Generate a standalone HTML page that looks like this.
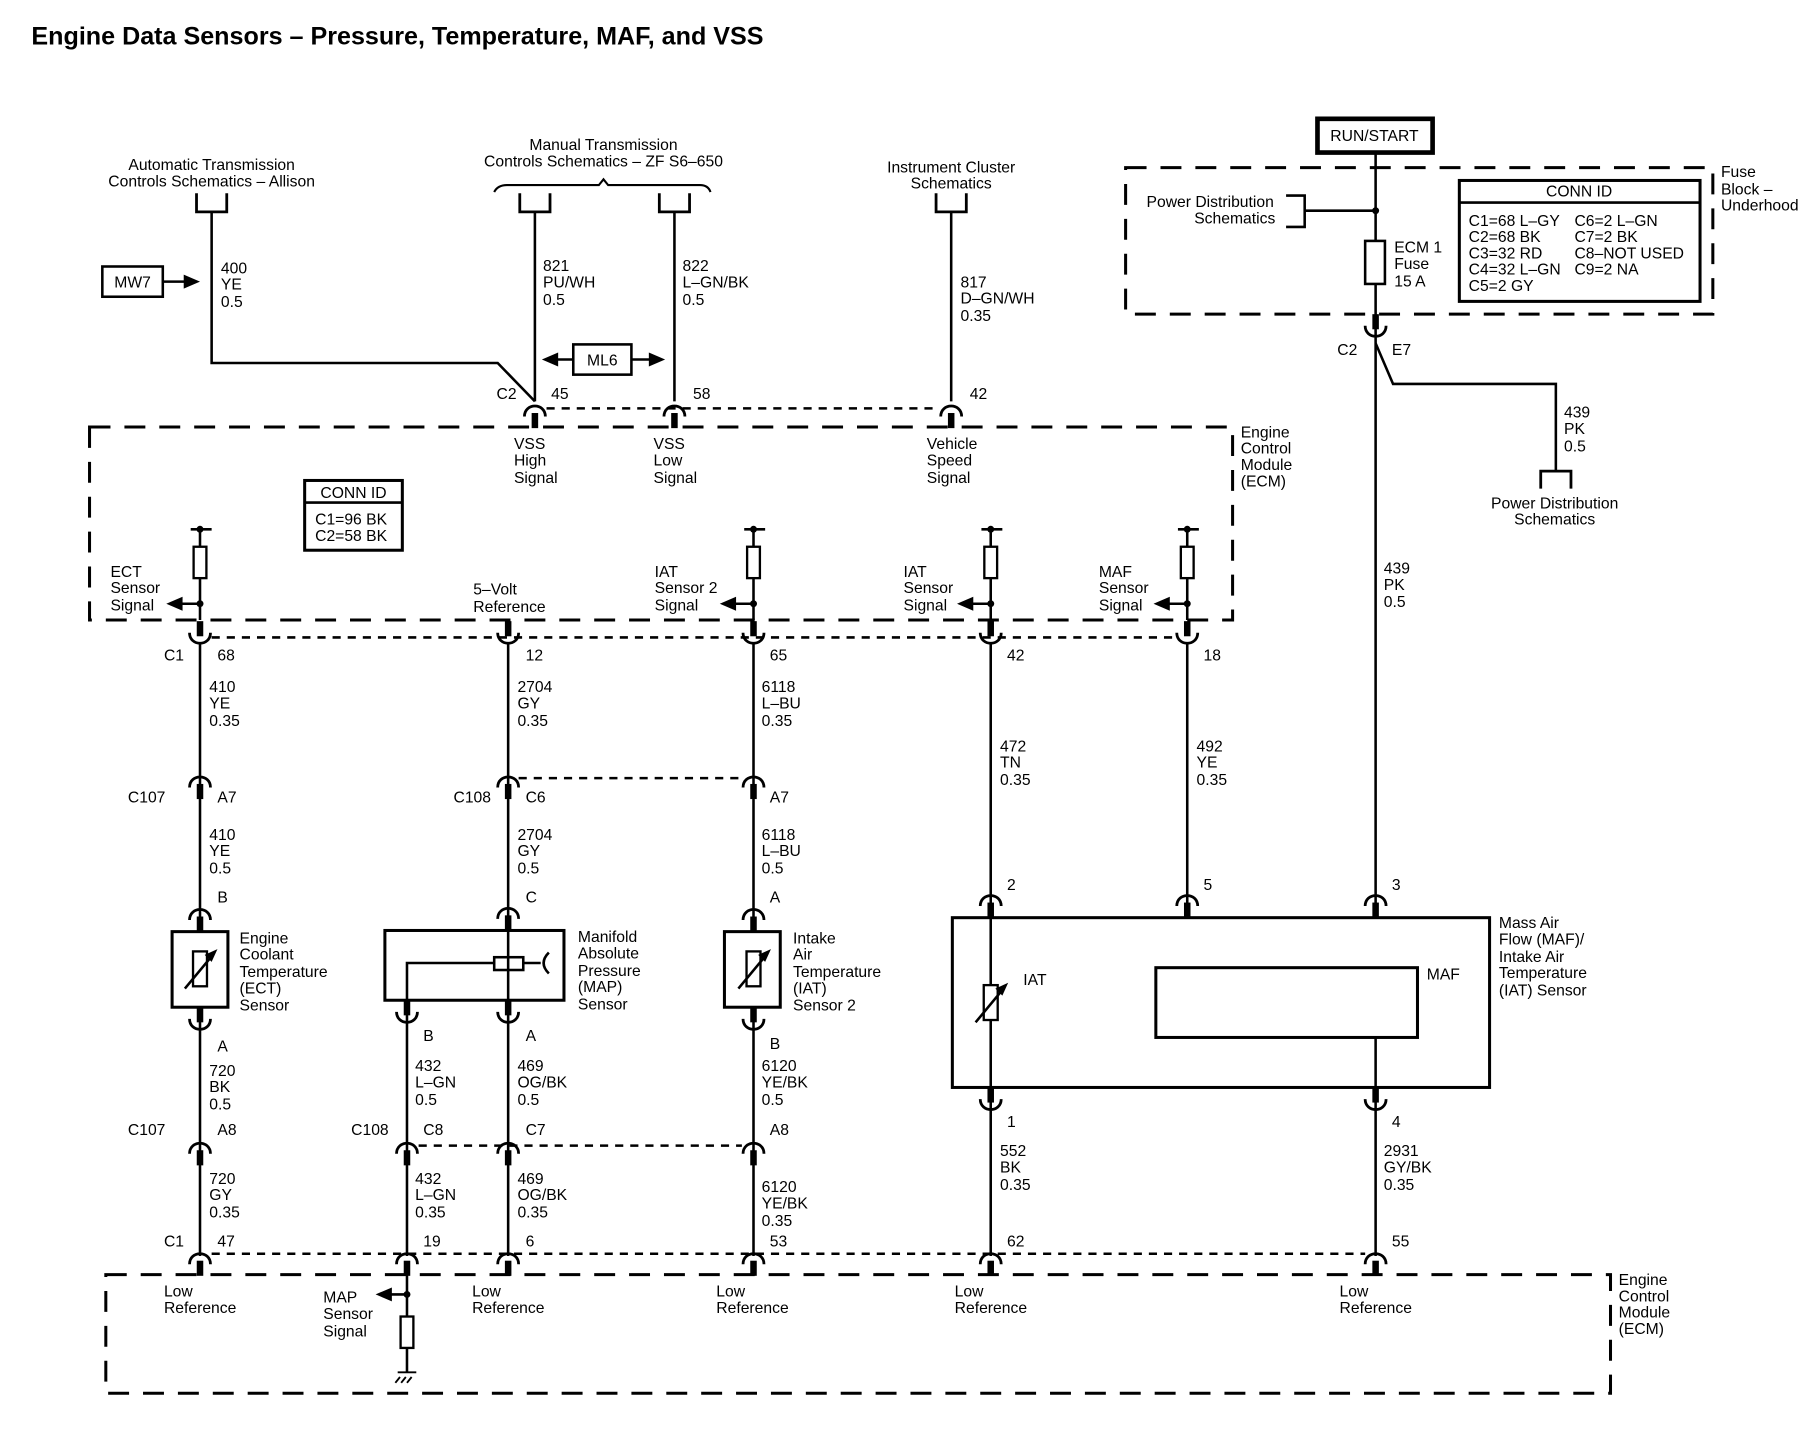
<!DOCTYPE html>
<html><head><meta charset="utf-8"><style>
html,body{margin:0;padding:0;background:#fff;}
svg{display:block;}
text{font-family:"Liberation Sans",sans-serif;font-size:13.5px;fill:#000;}
.b{font-weight:bold;}
</style></head><body>
<svg width="1814" height="1440" viewBox="0 0 1560 1238" xmlns="http://www.w3.org/2000/svg">
<defs>
<g id="cU"><rect x="-2.8" y="-16" width="5.6" height="13" fill="#000"/><path d="M-9,-6 C-9,6 9,6 9,-6" fill="none" stroke="#000" stroke-width="2.4"/></g>
<g id="cN"><rect x="-2.8" y="3" width="5.6" height="13" fill="#000"/><path d="M-9,6 C-9,-6 9,-6 9,6" fill="none" stroke="#000" stroke-width="2.4"/></g>
<g id="res"><rect x="-5.5" y="0" width="11" height="27" fill="#fff" stroke="#000" stroke-width="2"/></g>
<g id="brk"><path d="M-13,0 V16 H13 V0" fill="none" stroke="#000" stroke-width="2.4"/></g>
<g id="therm"><rect x="-6" y="-15" width="12" height="30" fill="#fff" stroke="#000" stroke-width="2"/><line x1="-13" y1="17" x2="11" y2="-12" stroke="#000" stroke-width="2.2"/><path d="M15,-17 L4,-12 L10,-6 Z" fill="#000"/></g>
</defs>
<text x="27" y="38" class="b" style="font-size:21.6px">Engine Data Sensors – Pressure, Temperature, MAF, and VSS</text>

<g stroke="#000" fill="none" stroke-width="2.2">
<path d="M182,182 V312 H428 L460,345"/>
<line x1="460" y1="182" x2="460" y2="345"/>
<line x1="580" y1="182" x2="580" y2="345"/>
<line x1="818" y1="182" x2="818" y2="345"/>
<path d="M425,165 Q428,159 436,159 H515 L519,154 L523,159 H602 Q609,159 611,165" stroke-width="1.8"/>
<rect x="88" y="229" width="52" height="26"/>
<line x1="140" y1="242" x2="160" y2="242"/>
<rect x="493" y="296" width="50" height="26"/>
<line x1="493" y1="309" x2="478" y2="309"/><line x1="543" y1="309" x2="560" y2="309"/>
<line x1="470" y1="351" x2="808" y2="351" stroke-dasharray="7,6"/>
<rect x="77" y="367" width="983" height="166" stroke-dasharray="18,12" stroke-width="2.6"/>
<rect x="262" y="413" width="84" height="60" stroke-width="2.6"/>
<line x1="262" y1="432" x2="346" y2="432"/>
<g>
<line x1="172" y1="455" x2="172" y2="533"/><line x1="164" y1="455" x2="182" y2="455"/>
<line x1="648" y1="455" x2="648" y2="533"/><line x1="640" y1="455" x2="658" y2="455"/>
<line x1="852" y1="455" x2="852" y2="533"/><line x1="844" y1="455" x2="862" y2="455"/>
<line x1="1021" y1="455" x2="1021" y2="533"/><line x1="1013" y1="455" x2="1031" y2="455"/>
<line x1="172" y1="519" x2="155" y2="519"/><line x1="648" y1="519" x2="631" y2="519"/>
<line x1="852" y1="519" x2="835" y2="519"/><line x1="1021" y1="519" x2="1004" y2="519"/>
</g>
<line x1="182" y1="548" x2="1012" y2="548" stroke-dasharray="7,6"/>
<line x1="172" y1="552" x2="172" y2="801"/>
<line x1="437" y1="552" x2="437" y2="828"/>
<line x1="648" y1="552" x2="648" y2="801"/>
<line x1="852" y1="552" x2="852" y2="789"/>
<line x1="1021" y1="552" x2="1021" y2="789"/>
<line x1="1183" y1="131" x2="1183" y2="789"/>
<line x1="446" y1="669" x2="638" y2="669" stroke-dasharray="7,6"/>
<rect x="148" y="801" width="48" height="65" stroke-width="2.6"/>
<rect x="623" y="801" width="48" height="65" stroke-width="2.6"/>
<rect x="331" y="800" width="154" height="60" stroke-width="2.6"/>
<path d="M350,866 V828 H425"/><line x1="450" y1="828" x2="465" y2="828"/>
<path d="M472,819 Q463,828 472,837"/>
<rect x="425" y="823" width="25" height="11" fill="#fff"/>
<line x1="437" y1="860" x2="437" y2="823"/>
<rect x="819" y="789" width="462" height="146" stroke-width="2.6"/>
<rect x="994" y="832" width="225" height="60" stroke-width="2.6"/>
<line x1="852" y1="789" x2="852" y2="935"/>
<line x1="1183" y1="892" x2="1183" y2="935"/>
<line x1="172" y1="866" x2="172" y2="1080"/>
<line x1="350" y1="860" x2="350" y2="1080"/>
<line x1="437" y1="860" x2="437" y2="1080"/>
<line x1="648" y1="866" x2="648" y2="1080"/>
<line x1="852" y1="935" x2="852" y2="1080"/>
<line x1="1183" y1="935" x2="1183" y2="1080"/>
<line x1="360" y1="985" x2="638" y2="985" stroke-dasharray="7,6"/>
<line x1="182" y1="1078" x2="1174" y2="1078" stroke-dasharray="7,6"/>
<rect x="91" y="1096" width="1294" height="102" stroke-dasharray="18,12" stroke-width="2.6"/>
<line x1="350" y1="1096" x2="350" y2="1180"/>
<line x1="350" y1="1113" x2="335" y2="1113"/>
<path d="M342,1180 H358 M344,1184 L340,1189 M349,1184 L345,1189 M354,1184 L350,1189" stroke-width="1.6"/>
<rect x="1133" y="102" width="99" height="29" stroke-width="4"/>
<rect x="968" y="144" width="505" height="126" stroke-dasharray="18,12" stroke-width="2.6"/>
<path d="M1106,168 H1122 V195 H1106" />
<line x1="1122" y1="181" x2="1183" y2="181"/>
<rect x="1174" y="207" width="17" height="37" fill="#fff"/>
<rect x="1255" y="155" width="207" height="104" stroke-width="2.6"/>
<line x1="1255" y1="174" x2="1462" y2="174"/>
<path d="M1183,295 L1198,330 H1338 V405"/>
<path d="M1325,420 V405 H1351 V420" stroke-width="2.4"/>
</g>
<g fill="#000">
<circle cx="1183" cy="181" r="3"/>
<circle cx="172" cy="455" r="3"/><circle cx="648" cy="455" r="3"/><circle cx="852" cy="455" r="3"/><circle cx="1021" cy="455" r="3"/>
<circle cx="172" cy="519" r="3"/><circle cx="648" cy="519" r="3"/><circle cx="852" cy="519" r="3"/><circle cx="1021" cy="519" r="3"/>
<circle cx="350" cy="1113" r="3"/>
<path d="M143,519 L157,513 V525 Z"/><path d="M619,519 L633,513 V525 Z"/><path d="M823,519 L837,513 V525 Z"/><path d="M992,519 L1006,513 V525 Z"/>
<path d="M323,1113 L337,1107 V1119 Z"/>
<path d="M172,242 L158,236 V248 Z"/>
<path d="M466,309 L480,303 V315 Z"/><path d="M572,309 L558,303 V315 Z"/>
</g>
<use href="#res" x="172" y="470"/><use href="#res" x="648" y="470"/><use href="#res" x="852" y="470"/><use href="#res" x="1021" y="470"/>
<use href="#res" x="350" y="1132"/>
<use href="#therm" x="172" y="833"/><use href="#therm" x="648" y="833"/><use href="#therm" x="852" y="862"/>
<use href="#brk" x="182" y="166"/><use href="#brk" x="460" y="166"/><use href="#brk" x="580" y="166"/><use href="#brk" x="818" y="166"/>
<use href="#cN" x="460" y="352"/><use href="#cN" x="580" y="352"/><use href="#cN" x="818" y="352"/>
<use href="#cU" x="172" y="550"/><use href="#cU" x="437" y="550"/><use href="#cU" x="648" y="550"/><use href="#cU" x="852" y="550"/><use href="#cU" x="1021" y="550"/>
<use href="#cN" x="172" y="671"/><use href="#cN" x="437" y="671"/><use href="#cN" x="648" y="671"/>
<use href="#cN" x="172" y="785"/><use href="#cN" x="437" y="784"/><use href="#cN" x="648" y="785"/>
<use href="#cN" x="852" y="773"/><use href="#cN" x="1021" y="773"/><use href="#cN" x="1183" y="773"/>
<use href="#cU" x="172" y="882"/><use href="#cU" x="350" y="876"/><use href="#cU" x="437" y="876"/><use href="#cU" x="648" y="882"/>
<use href="#cU" x="852" y="951"/><use href="#cU" x="1183" y="951"/>
<use href="#cN" x="172" y="986"/><use href="#cN" x="350" y="986"/><use href="#cN" x="437" y="986"/><use href="#cN" x="648" y="986"/>
<use href="#cN" x="172" y="1081"/><use href="#cN" x="350" y="1081"/><use href="#cN" x="437" y="1081"/><use href="#cN" x="648" y="1081"/><use href="#cN" x="852" y="1081"/><use href="#cN" x="1183" y="1081"/>
<use href="#cU" x="1183" y="286"/>

<g text-anchor="middle">
<text x="182" y="146">Automatic Transmission</text><text x="182" y="160">Controls Schematics – Allison</text>
<text x="519" y="129">Manual Transmission</text><text x="519" y="143">Controls Schematics – ZF S6–650</text>
<text x="818" y="148">Instrument Cluster</text><text x="818" y="162">Schematics</text>
<text x="114" y="247">MW7</text><text x="518" y="314">ML6</text>
<text x="304" y="428">CONN ID</text>
<text x="1182" y="121">RUN/START</text>
<text x="1358" y="169">CONN ID</text>
<text x="1337" y="437">Power Distribution</text><text x="1337" y="451">Schematics</text>
</g>
<g>
<text x="190" y="235">400</text><text x="190" y="249">YE</text><text x="190" y="264">0.5</text>
<text x="467" y="233">821</text><text x="467" y="247">PU/WH</text><text x="467" y="262">0.5</text>
<text x="587" y="233">822</text><text x="587" y="247">L–GN/BK</text><text x="587" y="262">0.5</text>
<text x="826" y="247">817</text><text x="826" y="261">D–GN/WH</text><text x="826" y="276">0.35</text>
<text x="427" y="343">C2</text><text x="474" y="343">45</text><text x="596" y="343">58</text><text x="834" y="343">42</text>
<text x="442" y="386">VSS</text><text x="442" y="400">High</text><text x="442" y="415">Signal</text>
<text x="562" y="386">VSS</text><text x="562" y="400">Low</text><text x="562" y="415">Signal</text>
<text x="797" y="386">Vehicle</text><text x="797" y="400">Speed</text><text x="797" y="415">Signal</text>
<text x="1067" y="376">Engine</text><text x="1067" y="390">Control</text><text x="1067" y="404">Module</text><text x="1067" y="418">(ECM)</text>
<text x="271" y="451">C1=96 BK</text><text x="271" y="465">C2=58 BK</text>
<text x="95" y="496">ECT</text><text x="95" y="510">Sensor</text><text x="95" y="525">Signal</text>
<text x="407" y="511">5–Volt</text><text x="407" y="526">Reference</text>
<text x="563" y="496">IAT</text><text x="563" y="510">Sensor 2</text><text x="563" y="525">Signal</text>
<text x="777" y="496">IAT</text><text x="777" y="510">Sensor</text><text x="777" y="525">Signal</text>
<text x="945" y="496">MAF</text><text x="945" y="510">Sensor</text><text x="945" y="525">Signal</text>
<text x="141" y="568">C1</text><text x="187" y="568">68</text><text x="452" y="568">12</text><text x="662" y="568">65</text><text x="866" y="568">42</text><text x="1035" y="568">18</text>
<text x="180" y="595">410</text><text x="180" y="609">YE</text><text x="180" y="624">0.35</text>
<text x="445" y="595">2704</text><text x="445" y="609">GY</text><text x="445" y="624">0.35</text>
<text x="655" y="595">6118</text><text x="655" y="609">L–BU</text><text x="655" y="624">0.35</text>
<text x="860" y="646">472</text><text x="860" y="660">TN</text><text x="860" y="675">0.35</text>
<text x="1029" y="646">492</text><text x="1029" y="660">YE</text><text x="1029" y="675">0.35</text>
<text x="110" y="690">C107</text><text x="187" y="690">A7</text><text x="390" y="690">C108</text><text x="452" y="690">C6</text><text x="662" y="690">A7</text>
<text x="180" y="722">410</text><text x="180" y="736">YE</text><text x="180" y="751">0.5</text>
<text x="445" y="722">2704</text><text x="445" y="736">GY</text><text x="445" y="751">0.5</text>
<text x="655" y="722">6118</text><text x="655" y="736">L–BU</text><text x="655" y="751">0.5</text>
<text x="187" y="776">B</text><text x="452" y="776">C</text><text x="662" y="776">A</text>
<text x="866" y="765">2</text><text x="1035" y="765">5</text><text x="1197" y="765">3</text>
<text x="206" y="811">Engine</text><text x="206" y="825">Coolant</text><text x="206" y="840">Temperature</text><text x="206" y="854">(ECT)</text><text x="206" y="869">Sensor</text>
<text x="497" y="810">Manifold</text><text x="497" y="824">Absolute</text><text x="497" y="839">Pressure</text><text x="497" y="853">(MAP)</text><text x="497" y="868">Sensor</text>
<text x="682" y="811">Intake</text><text x="682" y="825">Air</text><text x="682" y="840">Temperature</text><text x="682" y="854">(IAT)</text><text x="682" y="869">Sensor 2</text>
<text x="880" y="847">IAT</text><text x="1227" y="842">MAF</text>
<text x="1289" y="798">Mass Air</text><text x="1289" y="812">Flow (MAF)/</text><text x="1289" y="827">Intake Air</text><text x="1289" y="841">Temperature</text><text x="1289" y="856">(IAT) Sensor</text>
<text x="187" y="904">A</text><text x="364" y="895">B</text><text x="452" y="895">A</text><text x="662" y="902">B</text>
<text x="866" y="969">1</text><text x="1197" y="969">4</text>
<text x="180" y="925">720</text><text x="180" y="939">BK</text><text x="180" y="954">0.5</text>
<text x="357" y="921">432</text><text x="357" y="935">L–GN</text><text x="357" y="950">0.5</text>
<text x="445" y="921">469</text><text x="445" y="935">OG/BK</text><text x="445" y="950">0.5</text>
<text x="655" y="921">6120</text><text x="655" y="935">YE/BK</text><text x="655" y="950">0.5</text>
<text x="110" y="976">C107</text><text x="187" y="976">A8</text><text x="302" y="976">C108</text><text x="364" y="976">C8</text><text x="452" y="976">C7</text><text x="662" y="976">A8</text>
<text x="860" y="994">552</text><text x="860" y="1008">BK</text><text x="860" y="1023">0.35</text>
<text x="1190" y="994">2931</text><text x="1190" y="1008">GY/BK</text><text x="1190" y="1023">0.35</text>
<text x="180" y="1018">720</text><text x="180" y="1032">GY</text><text x="180" y="1047">0.35</text>
<text x="357" y="1018">432</text><text x="357" y="1032">L–GN</text><text x="357" y="1047">0.35</text>
<text x="445" y="1018">469</text><text x="445" y="1032">OG/BK</text><text x="445" y="1047">0.35</text>
<text x="655" y="1025">6120</text><text x="655" y="1039">YE/BK</text><text x="655" y="1054">0.35</text>
<text x="141" y="1072">C1</text><text x="187" y="1072">47</text><text x="364" y="1072">19</text><text x="452" y="1072">6</text><text x="662" y="1072">53</text><text x="866" y="1072">62</text><text x="1197" y="1072">55</text>
<text x="141" y="1115">Low</text><text x="141" y="1129">Reference</text>
<text x="406" y="1115">Low</text><text x="406" y="1129">Reference</text>
<text x="616" y="1115">Low</text><text x="616" y="1129">Reference</text>
<text x="821" y="1115">Low</text><text x="821" y="1129">Reference</text>
<text x="1152" y="1115">Low</text><text x="1152" y="1129">Reference</text>
<text x="278" y="1120">MAP</text><text x="278" y="1134">Sensor</text><text x="278" y="1149">Signal</text>
<text x="1392" y="1105">Engine</text><text x="1392" y="1119">Control</text><text x="1392" y="1133">Module</text><text x="1392" y="1147">(ECM)</text>
<text x="986" y="178">Power Distribution</text><text x="1027" y="192">Schematics</text>
<text x="1199" y="217">ECM 1</text><text x="1199" y="231">Fuse</text><text x="1199" y="246">15 A</text>
<text x="1263" y="194">C1=68 L–GY</text><text x="1263" y="208">C2=68 BK</text><text x="1263" y="222">C3=32 RD</text><text x="1263" y="236">C4=32 L–GN</text><text x="1263" y="250">C5=2 GY</text>
<text x="1354" y="194">C6=2 L–GN</text><text x="1354" y="208">C7=2 BK</text><text x="1354" y="222">C8–NOT USED</text><text x="1354" y="236">C9=2 NA</text>
<text x="1480" y="152">Fuse</text><text x="1480" y="167">Block –</text><text x="1480" y="181">Underhood</text>
<text x="1150" y="305">C2</text><text x="1197" y="305">E7</text>
<text x="1345" y="359">439</text><text x="1345" y="373">PK</text><text x="1345" y="388">0.5</text>
<text x="1190" y="493">439</text><text x="1190" y="507">PK</text><text x="1190" y="522">0.5</text>
</g>
</svg>
</body></html>
